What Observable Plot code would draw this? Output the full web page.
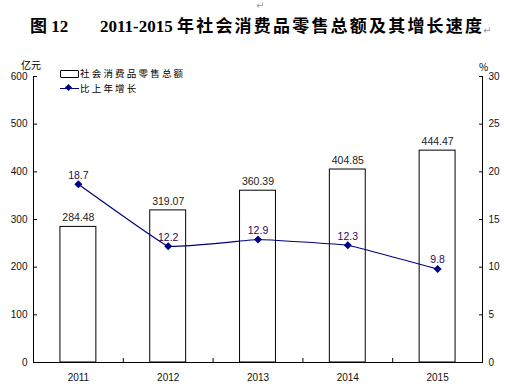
<!DOCTYPE html>
<html>
<head>
<meta charset="utf-8">
<script src="https://cdn.jsdelivr.net/npm/d3@7"></script>
<script src="https://cdn.jsdelivr.net/npm/@observablehq/plot@0.6"></script>
<style>
  html, body { margin: 0; padding: 0; background: #fff; }
  #wrap { position: relative; width: 508px; height: 390px; overflow: hidden; font-family: "Liberation Sans", Arial, sans-serif; }
  #wrap svg { position: absolute; left: 0; top: 0; }
  .abs { position: absolute; white-space: nowrap; }
  .t1 { font-family: "Liberation Serif", "Noto Sans CJK SC", serif; font-weight: bold; font-size: 17px; color: #000; }
  .cn { font-family: "Noto Sans CJK SC", sans-serif; font-weight: 700; letter-spacing: 2.2px; }
  .pm { color: #999; font-size: 10px; line-height: 10px; font-family: "DejaVu Sans", sans-serif; }
  .lg { font-family: "Noto Sans CJK SC", sans-serif; font-size: 9.5px; letter-spacing: 2.2px; color: #000; }
  .unit { font-family: "Noto Sans CJK SC", "Liberation Sans", sans-serif; font-size: 10px; color: #000; }
</style>
</head>
<body>
<div id="wrap">
  <div id="chart"></div>
  <div class="abs pm" style="left:256px; top:1px;">↵</div>
  <div class="abs t1" style="left:30px; top:12px;">图 12</div>
  <div class="abs t1" style="left:100px; top:12px;">2011-2015 <span class="cn">年社会消费品零售总额及其增长速度</span></div>
  <div class="abs pm" style="left:483px; top:26px;">↵</div>
  <div class="abs unit" style="left:21px; top:57px;">亿元</div>
  <div class="abs unit" style="left:479px; top:59px;">%</div>
  <div class="abs" style="left:60px; top:70px; width:17px; height:6px; border:1px solid #000; border-radius:1px; background:#fff;"></div>
  <div class="abs lg" style="left:80px; top:66px;">社会消费品零售总额</div>
  <div class="abs" style="left:60px; top:88px; width:19px; height:1px; background:#000080;"></div>
  <div class="abs" style="left:66px; top:85px; width:5px; height:5px; background:#000080; transform:rotate(45deg);"></div>
  <div class="abs lg" style="left:80px; top:81px;">比上年增长</div>
</div>
<script>
const years = ["2011", "2012", "2013", "2014", "2015"];
const totals = [284.48, 319.07, 360.39, 404.85, 444.47];
const growth = [18.7, 12.2, 12.9, 12.3, 9.8];
const leftTicks = [0, 100, 200, 300, 400, 500, 600];
const ratio = 20; // right axis (0-30 %) mapped onto left axis (0-600)

const data = years.map((y, i) => ({idx: i + 1, year: y, total: totals[i], pct: growth[i]}));

const plot = Plot.plot({
  width: 508,
  height: 390,
  marginLeft: 33,
  marginRight: 26,
  marginTop: 76,
  marginBottom: 28,
  style: {fontFamily: "Liberation Sans, Arial, sans-serif", fontSize: "10px", color: "#000", background: "transparent"},
  x: {type: "linear", domain: [0.5, 5.5], axis: null},
  y: {domain: [0, 600], axis: null},
  marks: [
    Plot.rectY(data, {x1: d => d.idx - 0.2, x2: d => d.idx + 0.2, y: "total", fill: "#fff", stroke: "#000", strokeWidth: 1}),
    Plot.ruleX([0.5, 5.5], {stroke: "#000", strokeWidth: 1}),
    Plot.ruleY([0], {stroke: "#000", strokeWidth: 1.2}),
    // left axis: labels + inward ticks
    Plot.axisY({anchor: "left", ticks: leftTicks, tickSize: 0, tickPadding: 6, tickFormat: d => String(d), fill: "#111", label: null}),
    Plot.axisY({anchor: "left", ticks: leftTicks, tickSize: 4, dx: 4, text: null, label: null}),
    // right axis
    Plot.axisY({anchor: "right", ticks: leftTicks, tickSize: 0, tickPadding: 6, tickFormat: d => String(d / ratio), fill: "#111", label: null}),
    Plot.axisY({anchor: "right", ticks: leftTicks, tickSize: 4, dx: -4, text: null, label: null}),
    // bottom axis
    Plot.axisX({ticks: [1, 2, 3, 4, 5], tickSize: 0, tickPadding: 11, tickFormat: i => years[i - 1], fill: "#111", label: null}),
    Plot.axisX({ticks: [1.5, 2.5, 3.5, 4.5], tickSize: 4, dy: -4, text: null, label: null}),
    Plot.text(data, {x: "idx", y: "total", text: d => d.total.toFixed(2), dy: -9, fill: "#222", fontSize: 10.5}),
    Plot.line(data, {x: "idx", y: d => d.pct * ratio, stroke: "#000080", strokeWidth: 1.2, curve: d3.curveCardinal.tension(0.8)}),
    Plot.dot(data, {x: "idx", y: d => d.pct * ratio, symbol: "diamond2", r: 3.6, fill: "#000080", stroke: "none"}),
    Plot.text(data, {x: "idx", y: d => d.pct * ratio, text: d => d.pct.toFixed(1), dy: -9, fill: "#2a0a55", fontSize: 10.5})
  ]
});
document.getElementById("chart").appendChild(plot);
</script>
</body>
</html>
